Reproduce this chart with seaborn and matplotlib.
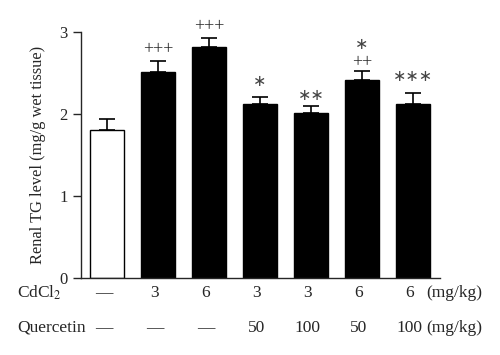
import numpy as np
import pandas as pd
import seaborn as sns
import matplotlib
matplotlib.use('Agg')
import matplotlib.pyplot as plt

# values
groups = ['G1', 'G2', 'G3', 'G4', 'G5', 'G6', 'G7']
tg_mean = [1.80, 2.51, 2.82, 2.12, 2.01, 2.41, 2.12]
tg_sem = [0.14, 0.14, 0.11, 0.09, 0.09, 0.11, 0.14]
cdcl2_dose = ['—', '3', '6', '3', '3', '6', '6']
quercetin_dose = ['—', '—', '—', '50', '100', '50', '100']
marks = [[], ['+++'], ['+++'], ['*'], ['**'], ['++', '*'], ['***']]

sns.set_style('ticks')
plt.rcParams['font.family'] = ['Liberation Serif', 'DejaVu Serif']
plt.rcParams['mathtext.fontset'] = 'stix'

df = pd.DataFrame({'group': groups, 'tg': tg_mean})
colors = ['white'] + ['black'] * 6

fig = plt.figure(figsize=(5, 3.55), dpi=100)
ax = fig.add_axes([0.162, 0.217, 0.718, 0.693])

sns.barplot(data=df, x='group', y='tg', hue='group', palette=colors,
            edgecolor='black', linewidth=1, width=0.667, errorbar=None,
            legend=False, ax=ax)
xs = np.arange(len(groups))
ax.errorbar(xs, tg_mean, yerr=[np.zeros(len(groups)), tg_sem], fmt='none',
            ecolor='black', elinewidth=1.2, capsize=6, capthick=1.2)

# significance marks (gap above the error bar, in data units)
gaps = {'+++': 0.14, '++': 0.11, '*': 0.18, '**': 0.12, '***': 0.2}
for i, mk in enumerate(marks):
    y = tg_mean[i] + tg_sem[i]
    for m in mk:
        y += gaps[m] if y == tg_mean[i] + tg_sem[i] else 0.22
        if '*' in m:
            ax.text(i, y, '\u2217' * len(m), ha='center',
                    va='center', fontsize=11.5, family='DejaVu Sans',
                    color='#444444')
        else:
            ax.text(i, y, m, ha='center', va='center', fontsize=13)

ax.set_ylim(0, 3)
ax.set_xlim(-0.51, 6.53)
ax.set_yticks([0, 1, 2, 3])
ax.set_ylabel('Renal TG level (mg/g wet tissue)', fontsize=11.8, labelpad=10)
ax.set_xlabel('')
ax.set_xticks([])
ax.tick_params(axis='y', labelsize=12, length=6, width=1)
sns.despine(ax=ax)
for s in ['left', 'bottom']:
    ax.spines[s].set_linewidth(1)

# dose rows under the axis
tr = ax.get_xaxis_transform()
for i in range(len(groups)):
    ax.text(i - 0.06, -0.061, cdcl2_dose[i], transform=tr, ha='center',
            va='center', fontsize=12.5)
    ax.text(i - 0.06, -0.203, quercetin_dose[i], transform=tr, ha='center',
            va='center', fontsize=12.5)
fig.text(0.034, 1 - 293 / 355, 'CdCl$_2$', ha='left', va='center', fontsize=12.5)
fig.text(0.034, 1 - 328 / 355, 'Quercetin', ha='left', va='center', fontsize=12.5)
fig.text(0.964, 1 - 293 / 355, '(mg/kg)', ha='right', va='center', fontsize=12.5)
fig.text(0.964, 1 - 328 / 355, '(mg/kg)', ha='right', va='center', fontsize=12.5)

fig.savefig('out.png', dpi=100)
